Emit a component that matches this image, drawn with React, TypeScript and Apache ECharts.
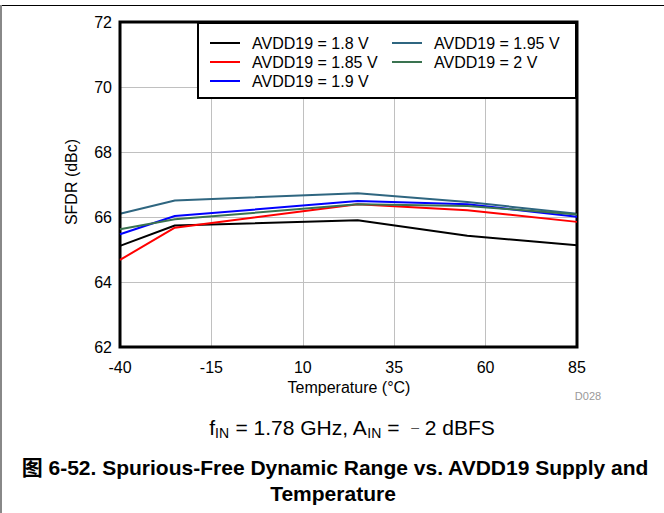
import React, { useEffect, useRef } from "react";
import * as echarts from "echarts";

const temps = [-40, -25, 25, 55, 85];
const seriesNames = [
  "AVDD19 = 1.8 V",
  "AVDD19 = 1.85 V",
  "AVDD19 = 1.9 V",
  "AVDD19 = 1.95 V",
  "AVDD19 = 2 V",
];
const v18 = [65.11, 65.74, 65.9, 65.42, 65.13];
const v185 = [64.68, 65.67, 66.39, 66.21, 65.85];
const v19 = [65.47, 66.03, 66.49, 66.39, 66.01];
const v195 = [66.1, 66.51, 66.73, 66.46, 66.1];
const v20 = [65.62, 65.93, 66.39, 66.34, 66.08];
const seriesValues = [v18, v185, v19, v195, v20];
const colors = ["#000000", "#ff0000", "#0000ff", "#2f6680", "#3a7350"];

const FONT = "'Liberation Sans', Arial, 'Noto Sans CJK SC', sans-serif";

export default function App() {
  const ref = useRef<HTMLDivElement>(null);
  useEffect(() => {
    document.body.style.margin = "0";
    const chart = echarts.init(ref.current!, undefined, { renderer: "svg" });
    const series = seriesNames.map((name, i) => ({
      name,
      type: "line",
      data: temps.map((t, j) => [t, seriesValues[i][j]]),
      symbol: "none",
      lineStyle: { color: colors[i], width: 2 },
      itemStyle: { color: colors[i] },
      z: 2 + (i === 3 ? 0 : 1),
    }));
    const legendCommon = {
      orient: "vertical",
      top: 33.5,
      padding: 0,
      itemGap: 0,
      itemWidth: 30,
      itemHeight: 2,
      icon: "rect",
      textStyle: {
        fontSize: 16,
        color: "#000",
        fontFamily: FONT,
        lineHeight: 19,
        padding: [0, 0, 0, 7],
      },
      z: 20,
    };
    chart.setOption({
      animation: false,
      textStyle: { fontFamily: FONT },
      grid: {
        left: 120,
        right: 87,
        top: 22,
        bottom: 166,
        show: true,
        borderColor: "#000",
        borderWidth: 3,
        z: 3,
      },
      xAxis: {
        type: "value",
        min: -40,
        max: 85,
        interval: 25,
        axisLine: { show: false },
        axisTick: { show: false },
        axisLabel: { color: "#000", fontSize: 16, margin: 12, fontFamily: FONT },
        splitLine: { show: true, lineStyle: { color: "#c0c0c0", width: 1 } },
      },
      yAxis: {
        type: "value",
        min: 62,
        max: 72,
        interval: 2,
        axisLine: { show: false },
        axisTick: { show: false },
        axisLabel: { color: "#000", fontSize: 16, margin: 8, fontFamily: FONT },
        splitLine: { show: true, lineStyle: { color: "#c0c0c0", width: 1 } },
      },
      legend: [
        { ...legendCommon, data: seriesNames.slice(0, 3), left: 210 },
        { ...legendCommon, data: seriesNames.slice(3), left: 392 },
      ],
      graphic: [
        {
          type: "line",
          shape: { x1: 0, y1: 5.5, x2: 664, y2: 5.5 },
          style: { stroke: "#000", lineWidth: 1 },
        },
        {
          type: "line",
          shape: { x1: 1, y1: 5, x2: 1, y2: 513 },
          style: { stroke: "#888", lineWidth: 2 },
        },
        {
          type: "rect",
          z: 10,
          shape: { x: 198, y: 23, width: 378, height: 75 },
          style: { fill: "#fff", stroke: "#000", lineWidth: 2 },
        },
        {
          type: "text",
          x: 71,
          y: 182,
          rotation: Math.PI / 2,
          style: {
            text: "SFDR (dBc)",
            fontSize: 16,
            fontFamily: FONT,
            fill: "#000",
            align: "center",
            verticalAlign: "middle",
          },
        },
        {
          type: "text",
          x: 349,
          y: 387,
          style: {
            text: "Temperature (°C)",
            fontSize: 16,
            fontFamily: FONT,
            fill: "#000",
            align: "center",
            verticalAlign: "middle",
          },
        },
        {
          type: "text",
          x: 588,
          y: 396,
          style: {
            text: "D028",
            fontSize: 11,
            fontFamily: FONT,
            fill: "#999",
            align: "center",
            verticalAlign: "middle",
          },
        },
        {
          type: "text",
          x: 352,
          y: 427,
          style: {
            text: "f{sub|IN} = 1.78 GHz, A{sub|IN} =  {m|–} 2 dBFS",
            fontSize: 21,
            fontFamily: FONT,
            fill: "#000",
            align: "center",
            verticalAlign: "middle",
            rich: {
              sub: { fontSize: 14, fontFamily: FONT, fill: "#000", padding: [12, 0, 0, 0] },
              m: { fontSize: 14, fontFamily: FONT, fill: "#555" },
            },
          },
        },
        {
          type: "text",
          x: 335,
          y: 467,
          style: {
            text: "图 6-52. Spurious-Free Dynamic Range vs. AVDD19 Supply and",
            fontSize: 21,
            fontWeight: "bold",
            fontFamily: FONT,
            fill: "#000",
            align: "center",
            verticalAlign: "middle",
          },
        },
        {
          type: "text",
          x: 333,
          y: 493,
          style: {
            text: "Temperature",
            fontSize: 21,
            fontWeight: "bold",
            fontFamily: FONT,
            fill: "#000",
            align: "center",
            verticalAlign: "middle",
          },
        },
      ],
      series,
    });
    return () => chart.dispose();
  }, []);
  return <div ref={ref} style={{ width: 664, height: 513 }} />;
}
